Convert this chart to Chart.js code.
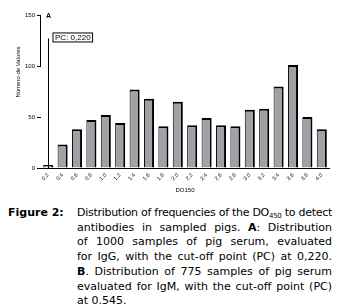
<!DOCTYPE html>
<html>
<head>
<meta charset="utf-8">
<script src="https://cdn.jsdelivr.net/npm/chart.js@4"></script>
<style>
  body { margin: 0; background: #fff; width: 340px; height: 307px; overflow: hidden; position: relative; }
  #wrap { position: absolute; left: 0; top: 0; width: 340px; height: 200px; }
  #cap { position: absolute; left: 0; top: 206px; width: 340px; font-family: "DejaVu Sans", Verdana, sans-serif; font-size: 11px; line-height: 14.7px; color: #000; }
  #fig { position: absolute; left: 8px; top: 0; font-weight: bold; }
  .ln { position: absolute; left: 77px; width: 255px; white-space: nowrap; text-align: justify; text-align-last: justify; }
  .ln.last { text-align-last: left; }
  sub { font-size: 7px; vertical-align: -2px; line-height: 0; }
</style>
</head>
<body>
<div id="wrap"><canvas id="chartDO"></canvas></div>
<div id="cap">
  <div id="fig">Figure 2:</div>
  <div class="ln" style="top:0">Distribution of frequencies of the DO<sub>450</sub> to detect</div>
  <div class="ln" style="top:14.7px">antibodies in sampled pigs. <b>A</b>: Distribution</div>
  <div class="ln" style="top:29.4px">of 1000 samples of pig serum, evaluated</div>
  <div class="ln" style="top:44.1px">for IgG, with the cut-off point (PC) at 0,220.</div>
  <div class="ln" style="top:58.8px"><b>B</b>. Distribution of 775 samples of pig serum</div>
  <div class="ln" style="top:73.5px">evaluated for IgM, with the cut-off point (PC)</div>
  <div class="ln last" style="top:88.2px">at 0.545.</div>
</div>
<script>
// Frequência por faixa de DO450
const labels = ['0.2', '0.4', '0.6', '0.8', '1.0', '1.2', '1.4', '1.6', '1.8', '2.0',
                '2.2', '2.4', '2.6', '2.8', '3.0', '3.2', '3.4', '3.6', '3.8', '4.0'];
const counts = [3, 23, 38, 47, 52, 44, 77, 68, 41, 65, 42, 49, 42, 41, 57, 58, 80, 101, 50, 38];
const yTicks = [0, 50, 100, 150];
const pcLabel = 'PC: 0,220';
const pcTop = 127;

// linhas que não cabem: aperta o espaçamento
document.querySelectorAll('.ln').forEach(el => {
  const extra = el.scrollWidth - el.clientWidth;
  if (extra > 0) el.style.letterSpacing = (-extra / el.textContent.length) + 'px';
});

const extras = {
  id: 'extras',
  afterDraw(chart) {
    const { ctx, chartArea, scales: { x, y } } = chart;
    ctx.save();
    ctx.strokeStyle = '#000';
    ctx.fillStyle = '#000';
    ctx.lineWidth = 1;

    // eixo y (só aparece de 100 a 150)
    const ax = Math.round(chartArea.left) - 0.5;
    ctx.beginPath();
    ctx.moveTo(ax, y.getPixelForValue(150));
    ctx.lineTo(ax, y.getPixelForValue(100));
    ctx.stroke();

    // linha do ponto de corte
    const px = Math.round(x.getPixelForValue(0)) + 0.5;
    const pt = y.getPixelForValue(pcTop);
    ctx.beginPath();
    ctx.moveTo(px, pt);
    ctx.lineTo(px, y.getPixelForValue(0));
    ctx.stroke();

    // caixa PC
    ctx.font = '8px "Liberation Sans", Arial, sans-serif';
    const w = ctx.measureText(pcLabel).width + 4;
    const bx = px + 4, by = pt - 6;
    ctx.fillStyle = '#fff';
    ctx.fillRect(bx, by, w, 9);
    ctx.strokeRect(bx + 0.5, by + 0.5, w, 9);
    ctx.fillStyle = '#000';
    ctx.textBaseline = 'middle';
    ctx.fillText(pcLabel, bx + 2.5, by + 5);

    // letra do painel
    ctx.font = 'bold 7px "Liberation Sans", Arial, sans-serif';
    ctx.fillText('A', chartArea.left + 5, chartArea.top + 1);

    // títulos dos eixos
    ctx.font = '6px "Liberation Sans", Arial, sans-serif';
    ctx.textAlign = 'center';
    ctx.fillText('DO150', (chartArea.left + chartArea.right) / 2, 190);
    ctx.translate(18, 72);
    ctx.rotate(-Math.PI / 2);
    ctx.fillText('Número de Valores', 0, 0);
    ctx.restore();
  }
};

new Chart(document.getElementById('chartDO'), {
  type: 'bar',
  data: {
    labels: labels,
    datasets: [{
      data: counts,
      backgroundColor: '#a0a0a6',
      borderColor: '#000',
      borderWidth: { top: 2, right: 2, left: 1, bottom: 0 },
      borderSkipped: 'start',
      barPercentage: 0.7,
      categoryPercentage: 1
    }]
  },
  options: {
    responsive: true,
    maintainAspectRatio: false,
    animation: false,
    layout: { padding: { top: 15, right: 11, left: 0, bottom: 0 } },
    plugins: { legend: { display: false }, tooltip: { enabled: false } },
    scales: {
      x: {
        grid: { display: false },
        border: { color: '#000', width: 1 },
        ticks: {
          color: '#000', autoSkip: false, minRotation: 45, maxRotation: 45, padding: -4,
          font: { size: 5.5, family: '"Liberation Sans", Arial, sans-serif' }
        },
        afterFit: s => { s.height = 32; }
      },
      y: {
        min: 0, max: 150,
        grid: { drawOnChartArea: false, color: '#000', tickLength: 4 },
        border: { display: false },
        afterBuildTicks: s => { s.ticks = yTicks.map(v => ({ value: v })); },
        ticks: {
          color: '#000', padding: 2,
          font: { size: 6, family: '"Liberation Sans", Arial, sans-serif' }
        },
        afterFit: s => { s.width = 41; }
      }
    }
  },
  plugins: [extras]
});
</script>
</body>
</html>
